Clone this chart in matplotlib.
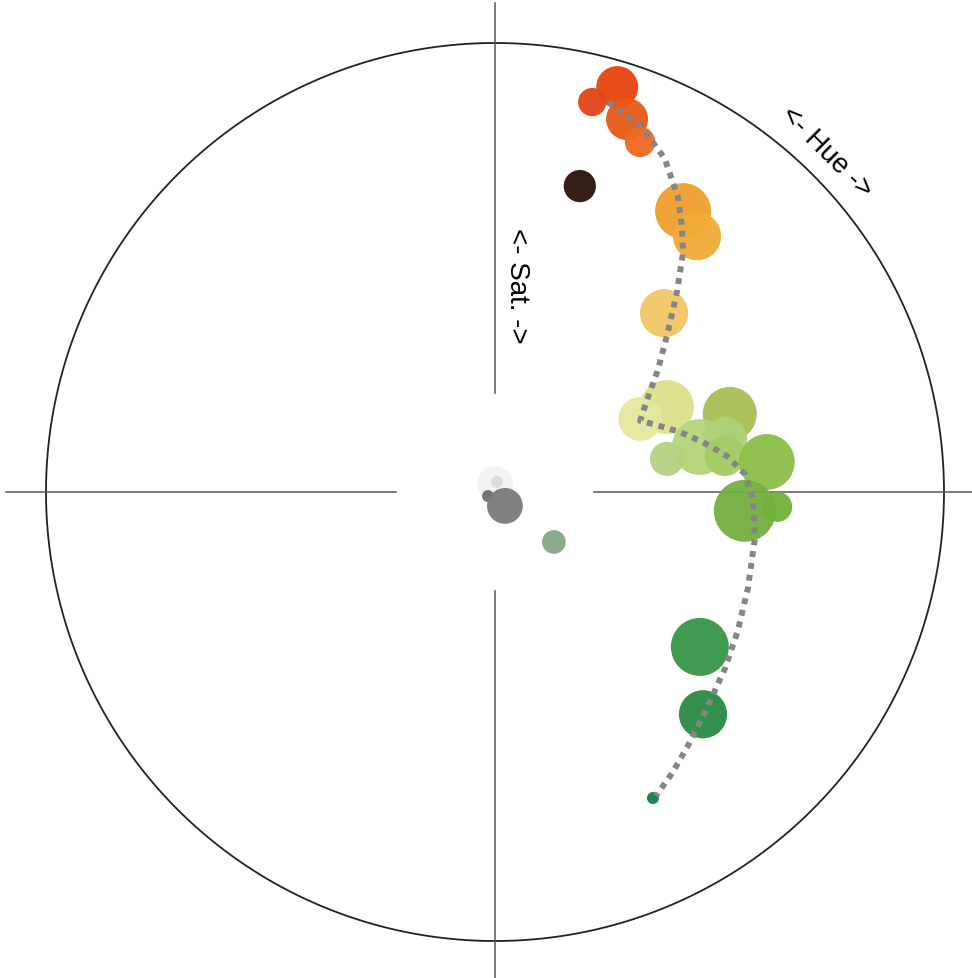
"""
Colour wheel: hue as angle (clockwise from top), saturation as radius.
"""
import numpy as np
import matplotlib.pyplot as plt

plt.rcParams['font.family'] = ['Liberation Sans', 'DejaVu Sans']

# bubbles: hue in degrees, saturation 0..1, share of pixels, colour
hue = [16.8, 14.0, 19.5, 22.5, 15.5, 33.8, 38.3, 43.4,
       63.7, 63.3, 71.6, 77.6, 79.1, 77.0, 81.1, 83.7, 94.3, 93.0,
       0.0, 11.0, 240.0, 144.5, 130.3, 127.1, 136.9, 152.7]
sat = [0.942, 0.895, 0.881, 0.844, 0.707, 0.753, 0.726, 0.548,
       0.427, 0.362, 0.551, 0.467, 0.390, 0.526, 0.518, 0.609, 0.558, 0.629,
       0.018, 0.023, 0.018, 0.038, 0.172, 0.572, 0.678, 0.767]
share = [4.4, 2.0, 4.4, 2.3, 2.6, 7.8, 5.8, 5.8,
         7.3, 4.8, 7.3, 7.8, 2.9, 4.8, 4.0, 7.8, 9.6, 2.3,
         3.2, 0.36, 0.36, 3.2, 1.4, 8.4, 5.8, 0.36]
colours = ['#E8460F', '#E0461A', '#E85A1A', '#EE6A22', '#2E140C', '#F0A030', '#F0AC38', '#F2C766',
           '#DDE08A', '#E5E8A0', '#AABF55', '#B5D47A', '#B6D184', '#ADD07A', '#A4CC68', '#8DC04A',
           '#76B043', '#72B23A',
           '#F5F3F2', '#DDD8DA', '#6F7070', '#7A7D7A', '#86A88A', '#3A964A', '#2A8C44', '#17804F']

# smoothed trend through the palette
trend_hue = [16.2, 21.9, 27.0, 31.8, 35.1, 38.1, 42.3, 47.2, 53.2, 58.2, 63.9,
             66.7, 72.0, 76.5, 81.2, 85.9, 91.6, 100.2, 111.0, 119.8, 127.6,
             135.1, 142.0, 147.6, 152.1]
trend_sat = [0.904, 0.876, 0.833, 0.773, 0.724, 0.679, 0.602, 0.525, 0.453, 0.401, 0.360,
             0.383, 0.433, 0.476, 0.523, 0.558, 0.575, 0.588, 0.603, 0.623, 0.646,
             0.672, 0.706, 0.739, 0.766]


def to_xy(h, s):
    h = np.radians(h)
    s = np.asarray(s)
    return s * np.sin(h), s * np.cos(h)


fig = plt.figure(figsize=(9.72, 9.79), dpi=100)
ax = fig.add_axes([0, 0, 1, 1])
ax.set_xlim(-495 / 449, 477 / 449)
ax.set_ylim(-486 / 449, 493 / 449)
ax.set_aspect('equal')
ax.axis('off')

# frame: circle plus crosshair with a gap in the middle
t = np.linspace(0, 2 * np.pi, 400)
ax.plot(np.cos(t), np.sin(t), color='#222222', lw=1.3, zorder=1)
L, g = 1.09, 0.22
for x0, x1, y0, y1 in [(0, 0, g, L), (0, 0, -L, -g), (-L, -g, 0, 0), (g, L, 0, 0)]:
    ax.plot([x0, x1], [y0, y1], color='#555555', lw=1.1, zorder=1)

ax.text(0.05, 0.462, '<- Sat. ->', rotation=270, fontsize=20,
        ha='center', va='center')
ax.text(0.739, 0.759, '<- Hue ->', rotation=-45, fontsize=20,
        ha='center', va='center', rotation_mode='anchor')

x, y = to_xy(hue, sat)
ax.scatter(x, y, s=np.array(share) * 207.4, c=colours, alpha=0.96,
           linewidths=0, zorder=2)

tx, ty = to_xy(trend_hue, trend_sat)
ax.plot(tx, ty, color='#858585', lw=4.3, linestyle=(0, (1, 1)),
        dash_capstyle='butt', zorder=3)

fig.savefig('out.png', dpi=100)
